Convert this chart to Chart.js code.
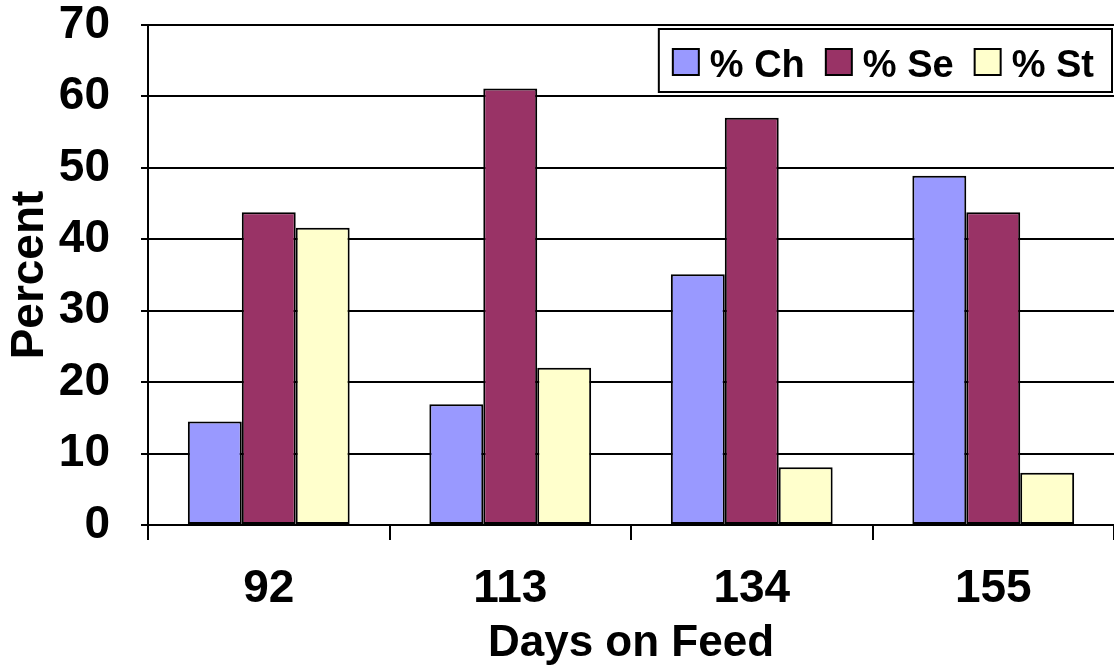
<!DOCTYPE html>
<html>
<head>
<meta charset="utf-8">
<script src="https://cdn.jsdelivr.net/npm/chart.js@4"></script>
<style>
  html, body { margin: 0; padding: 0; background: #fff; }
  #wrap { width: 1114px; height: 670px; position: relative; }
</style>
</head>
<body>
<div id="wrap"><canvas id="chart"></canvas></div>
<script>
// ── Data ──────────────────────────────────────────────────────────────────
const days      = ['92', '113', '134', '155'];
const pctCh     = [14.5, 16.9, 35.1, 48.9];
const pctSe     = [43.8, 61.1, 57.0, 43.8];
const pctSt     = [41.6, 22.0, 8.1, 7.3];
const seriesNames = ['% Ch', '% Se', '% St'];
const yTicks    = [0, 10, 20, 30, 40, 50, 60, 70];

const FONT = 'Arial, "Liberation Sans", sans-serif';

// Legend box drawn inside the plot, top right
const boxLegend = {
    id: 'boxLegend',
    afterDraw(chart) {
        const c = chart.ctx, area = chart.chartArea;
        c.save();
        c.font = 'bold 38px ' + FONT;
        const items = chart.data.datasets.map(ds => ({ label: ds.label, color: ds.backgroundColor }));
        const widths = items.map(it => c.measureText(it.label).width);
        const sw = 26, gapText = 11, gapItem = 21, padL = 14, padR = 18;
        let total = padL + padR + gapItem * (items.length - 1);
        widths.forEach(w => total += sw + gapText + w);
        const right = area.right - 2, top = area.top + 4, h = 63;
        const left = right - total;
        c.fillStyle = '#fff';
        c.fillRect(left, top, total, h);
        c.lineWidth = 2;
        c.strokeStyle = '#000';
        c.strokeRect(left, top, total, h);
        let x = left + padL;
        items.forEach((it, i) => {
            c.fillStyle = it.color;
            c.fillRect(x, top + 20, sw, sw);
            c.strokeRect(x, top + 20, sw, sw);
            c.fillStyle = '#000';
            c.textBaseline = 'alphabetic';
            c.fillText(it.label, x + sw + gapText, top + 48);
            x += sw + gapText + widths[i] + gapItem;
        });
        c.restore();
    }
};

const barStyle = { borderColor: '#000', borderWidth: 2, borderSkipped: false, categoryPercentage: 0.67, barPercentage: 1.0 };

new Chart(document.getElementById('chart'), {
    type: 'bar',
    data: {
        labels: days,
        datasets: [
            { label: seriesNames[0], data: pctCh, backgroundColor: '#9999FF', ...barStyle },
            { label: seriesNames[1], data: pctSe, backgroundColor: '#993366', ...barStyle },
            { label: seriesNames[2], data: pctSt, backgroundColor: '#FFFFCC', ...barStyle }
        ]
    },
    options: {
        responsive: true,
        maintainAspectRatio: false,
        animation: false,
        devicePixelRatio: 1,
        layout: { padding: { top: 25, right: 0, left: 0, bottom: 0 } },
        plugins: {
            legend: { display: false },
            tooltip: { enabled: false }
        },
        scales: {
            x: {
                offset: true,
                grid: { offset: true, drawOnChartArea: false, color: '#000', lineWidth: 2, tickLength: 15 },
                border: { display: false },
                ticks: { color: '#000', font: { family: FONT, size: 46, weight: 'bold' }, padding: 22 },
                title: { display: true, text: 'Days on Feed', color: '#000', font: { family: FONT, size: 44, weight: 'bold' }, padding: { top: -14, bottom: 0 } },
                afterFit(scale) { scale.height = 145; scale.paddingLeft = 0; scale.paddingRight = 0; }
            },
            y: {
                min: 0, max: 70,
                afterBuildTicks(scale) { scale.ticks = yTicks.map(v => ({ value: v })); },
                grid: { color: '#000', lineWidth: 2, tickLength: 7 },
                border: { display: true, color: '#000', width: 2 },
                ticks: { color: '#000', font: { family: FONT, size: 46, weight: 'bold', lineHeight: 1 }, padding: 31 },
                title: { display: true, text: 'Percent', color: '#000', font: { family: FONT, size: 46, weight: 'bold' }, padding: { top: 3, bottom: 0 } },
                afterFit(scale) { scale.width = 148; scale.paddingTop = 0; scale.paddingBottom = 0; }
            }
        }
    },
    plugins: [boxLegend]
});
</script>
</body>
</html>
